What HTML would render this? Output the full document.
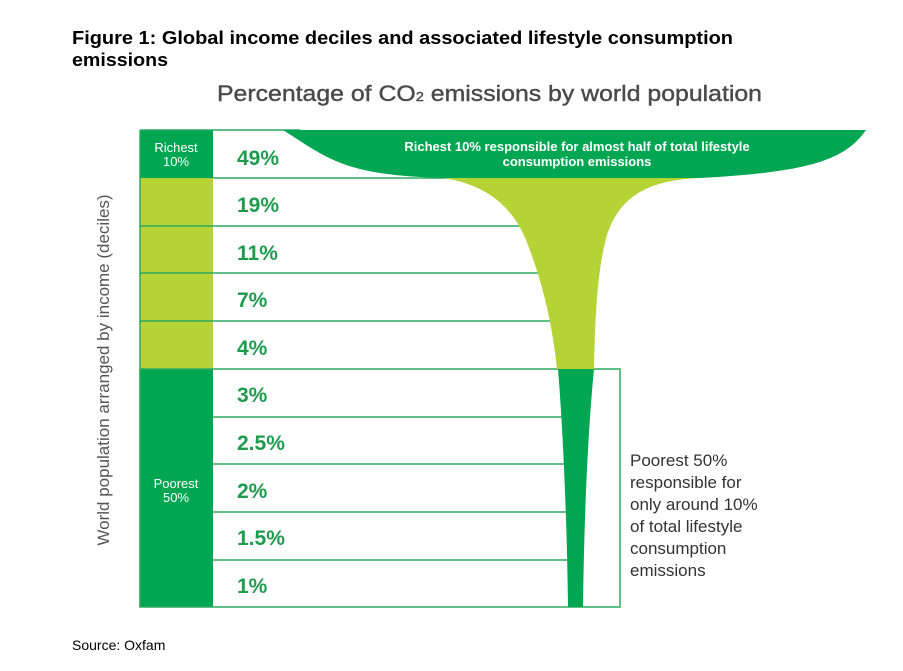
<!DOCTYPE html>
<html><head><style>
html,body{margin:0;padding:0;background:#fff;}
svg{display:block;font-family:"Liberation Sans",Arial,sans-serif;}
</style></head><body>
<svg width="903" height="671" viewBox="0 0 903 671" xmlns="http://www.w3.org/2000/svg">
<text x="72" y="44" font-size="18" font-weight="bold" fill="#000" textLength="661" lengthAdjust="spacingAndGlyphs">Figure 1: Global income deciles and associated lifestyle consumption</text>
<text x="72" y="66" font-size="18" font-weight="bold" fill="#000" textLength="96" lengthAdjust="spacingAndGlyphs">emissions</text>
<text x="217" y="101" font-size="22" fill="#4a4a4a" stroke="#4a4a4a" stroke-width="0.4" textLength="545" lengthAdjust="spacingAndGlyphs">Percentage of CO<tspan font-size="13">2</tspan> emissions by world population</text>

<rect x="140" y="130" width="73" height="48" fill="#00a651"/>
<rect x="140" y="178" width="73" height="191" fill="#b5d334"/>
<rect x="140" y="369" width="73" height="238" fill="#00a651"/>
<g stroke="#2faa60" stroke-width="1.5">
<line x1="140" y1="226" x2="213" y2="226"/>
<line x1="140" y1="273" x2="213" y2="273"/>
<line x1="140" y1="321" x2="213" y2="321"/>
</g>
<text x="176" y="152" font-size="13" fill="#fff" text-anchor="middle">Richest</text>
<text x="176" y="166" font-size="13" fill="#fff" text-anchor="middle">10%</text>
<text x="176" y="488" font-size="13" fill="#fff" text-anchor="middle">Poorest</text>
<text x="176" y="502" font-size="13" fill="#fff" text-anchor="middle">50%</text>

<rect x="140" y="369" width="480" height="238" fill="none" stroke="#2faa60" stroke-width="1.5"/>
<line x1="140" y1="130" x2="140" y2="607" stroke="#2faa60" stroke-width="1.5"/>
<line x1="140" y1="130" x2="300" y2="130" stroke="#2faa60" stroke-width="1.5"/>

<g stroke="#2faa60" stroke-width="1.5">
<line x1="213" y1="178" x2="450" y2="178"/>
<line x1="213" y1="226" x2="520" y2="226"/>
<line x1="213" y1="273" x2="540" y2="273"/>
<line x1="213" y1="321" x2="550" y2="321"/>
<line x1="213" y1="417" x2="562" y2="417"/>
<line x1="213" y1="464" x2="565" y2="464"/>
<line x1="213" y1="512" x2="566" y2="512"/>
<line x1="213" y1="560" x2="567" y2="560"/>
</g>

<path d="M443,178 C490,185 515,210 528,245 C545,290 553,330 557,369 L594,369 C595,320 597,270 607,235 C620,195 650,180 700,178 Z" fill="#b5d334"/>
<path d="M283,130 L866,130 C845,160 810,172 700,178 L443,178 C345,175 330,160 283,130 Z" fill="#00a651"/>
<path d="M558,369 L594,369 C588,430 584,520 583,607 L568,607 C567,520 563,430 558,369 Z" fill="#00a651"/>

<text x="577" y="151" font-size="13" font-weight="bold" fill="#fff" text-anchor="middle">Richest 10% responsible for almost half of total lifestyle</text>
<text x="577" y="166" font-size="13" font-weight="bold" fill="#fff" text-anchor="middle">consumption emissions</text>

<g font-size="21" font-weight="bold" fill="#1f9b4e">
<text x="237" y="165">49%</text>
<text x="237" y="212">19%</text>
<text x="237" y="260">11%</text>
<text x="237" y="307">7%</text>
<text x="237" y="355">4%</text>
<text x="237" y="402">3%</text>
<text x="237" y="450">2.5%</text>
<text x="237" y="498">2%</text>
<text x="237" y="545">1.5%</text>
<text x="237" y="593">1%</text>
</g>

<g font-size="17" fill="#333">
<text x="630" y="466">Poorest 50%</text>
<text x="630" y="488">responsible for</text>
<text x="630" y="510">only around 10%</text>
<text x="630" y="532">of total lifestyle</text>
<text x="630" y="554">consumption</text>
<text x="630" y="576">emissions</text>
</g>

<text transform="translate(109,370) rotate(-90)" font-size="17" fill="#555" text-anchor="middle">World population arranged by income (deciles)</text>

<text x="72" y="650" font-size="14" fill="#000">Source: Oxfam</text>
</svg>
</body></html>
